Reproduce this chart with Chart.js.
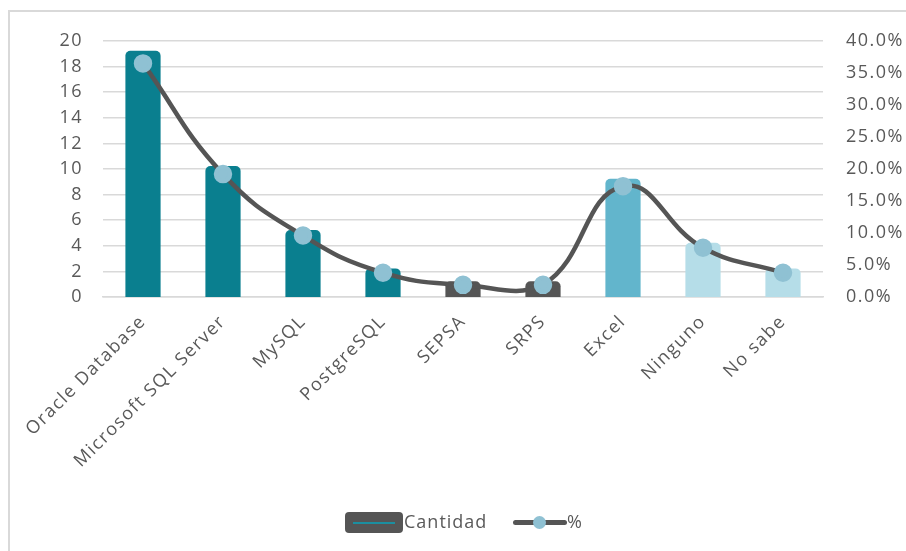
<!DOCTYPE html>
<html><head><meta charset="utf-8">
<script src="https://cdn.jsdelivr.net/npm/chart.js@4/dist/chart.umd.min.js"></script>
<style>
html,body{margin:0;padding:0;background:#fff;overflow:hidden;}
#frame{position:absolute;left:8px;top:10px;width:920px;height:560px;border-left:2px solid #d9d9d9;border-top:2px solid #d9d9d9;box-sizing:border-box;}
#wrap{position:absolute;left:0;top:0;width:906px;height:551px;}
#legend{position:absolute;top:510px;left:0;width:906px;height:26px;font-family:'Open Sans';font-size:18px;color:#595959;letter-spacing:1px;}
.bicon{position:absolute;left:345px;top:2px;width:58px;height:21px;background:#555;border-radius:4px;}
.bicon i{position:absolute;left:8px;right:8px;top:10px;height:2px;background:#1b8fa0;}
.lt1{position:absolute;left:404px;top:-1px;}
.licon{position:absolute;left:513px;top:10px;width:54px;height:5px;background:#555;border-radius:3px;}
.licon i{position:absolute;left:20px;top:-4px;width:13px;height:13px;border-radius:50%;background:#8fc1d3;}
.lt2{position:absolute;left:567px;top:-1px;}
</style></head><body>
<div id="frame"></div>
<div id="wrap"><canvas id="c" width="906" height="551"></canvas></div>
<div id="legend"><div class="bicon"><i></i></div><span class="lt1">Cantidad</span><div class="licon"><i></i></div><span class="lt2">%</span></div>
<script>
const categories = ["Oracle Database","Microsoft SQL Server","MySQL","PostgreSQL","SEPSA","SRPS","Excel","Ninguno","No sabe"];
const cantidad = [19,10,5,2,1,1,9,4,2];
const porcentaje = [36.5,19.2,9.6,3.8,1.9,1.9,17.3,7.7,3.8];
const leftTicks = [0,2,4,6,8,10,12,14,16,18,20];
const rightTicks = [0,5,10,15,20,25,30,35,40];
const seriesNames = ["Cantidad","%"];

const barColors = ["#0a7f8f","#0a7f8f","#0a7f8f","#0a7f8f","#555555","#555555","#62b5cc","#b5dde8","#b5dde8"];
const FONT = {family:'Open Sans',size:18};

const spacing = {id:'spacing',beforeLayout(chart){chart.ctx.letterSpacing='1.5px';},beforeDraw(chart){chart.ctx.letterSpacing='1.5px';}};

new Chart(document.getElementById('c'),{
  data:{
    labels:categories,
    datasets:[
      {type:'line',label:seriesNames[1],data:porcentaje,yAxisID:'y1',borderColor:'#555555',borderWidth:4.5,
       tension:0.45,pointRadius:7,pointBackgroundColor:'#8fc1d3',pointBorderColor:'#8fc1d3',order:0},
      {type:'bar',label:seriesNames[0],data:cantidad,yAxisID:'y',backgroundColor:barColors,
       borderRadius:5,borderSkipped:'bottom',inflateAmount:3,barPercentage:0.73,categoryPercentage:0.5,order:1}
    ]
  },
  plugins:[spacing],
  options:{
    responsive:false,animation:false,
    layout:{padding:{left:0,right:0,top:41,bottom:0}},
    plugins:{legend:{display:false},tooltip:{enabled:false}},
    scales:{
      x:{grid:{display:false},border:{color:'#d9d9d9',width:1.5},
        afterFit:(s)=>{s.height=254;},
        ticks:{color:'#595959',font:FONT,maxRotation:45,minRotation:45,padding:6}},
      y:{position:'left',min:0,max:20,afterBuildTicks:(s)=>{s.ticks=leftTicks.map(v=>({value:v}));},
        afterFit:(s)=>{s.width=103;},
        grid:{color:'#d9d9d9',lineWidth:1.5,tickLength:0},border:{display:false},
        ticks:{color:'#595959',font:FONT,padding:20}},
      y1:{position:'right',min:0,max:40,afterBuildTicks:(s)=>{s.ticks=rightTicks.map(v=>({value:v}));},
        afterFit:(s)=>{s.width=83;},
        grid:{display:false},border:{display:false},
        ticks:{color:'#595959',font:FONT,padding:15,callback:(v)=>v.toFixed(1)+'%'}}
    }
  }
});
</script>
</body></html>
